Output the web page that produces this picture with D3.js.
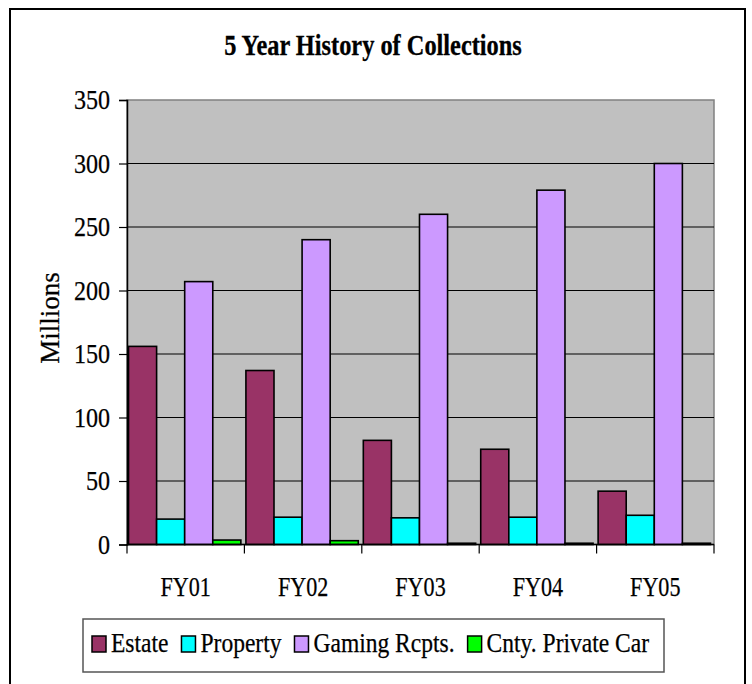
<!DOCTYPE html>
<html lang="en">
    <head>
        <meta charset="utf-8">
        <title>5 Year History of Collections</title>
        <script type="text/javascript" src="https://d3js.org/d3.v7.min.js"></script>
        <style>
            body { margin: 0; background: #fff; }
            text { font-family: "Liberation Serif", "Times New Roman", serif; fill: #000; }
        </style>
    </head>
    <body>
        <script type="text/javascript">

        // data (millions)
        var categories = ["FY01", "FY02", "FY03", "FY04", "FY05"];
        var seriesNames = ["Estate", "Property", "Gaming Rcpts.", "Cnty. Private Car"];
        var estate = [156, 137, 82, 75, 42];
        var property = [20, 21.5, 21, 21.5, 23];
        var gaming = [207, 240, 260, 279, 300];
        var privateCar = [3.5, 3, 1, 1, 1];
        var yTicks = [0, 50, 100, 150, 200, 250, 300, 350];
        var colors = ["#993366", "#00FFFF", "#CC99FF", "#00FF00"];

        var w = 752;
        var h = 684;
        var plot = {left: 127, top: 100, right: 714, bottom: 544.5};

        var svg = d3.select("body")
                    .append("svg")
                    .attr("width", w)
                    .attr("height", h);

        // outer chart border
        svg.append("rect")
           .attr("x", 10).attr("y", 9)
           .attr("width", 735).attr("height", 700)
           .attr("fill", "#fff")
           .attr("stroke", "#000")
           .attr("stroke-width", 2);

        // places a text horizontally squeezed like the original
        function label(x, y, str, anchor, opts) {
          opts = opts || {};
          var t = svg.append("text")
                     .attr("y", y)
                     .attr("font-size", opts.size || 28)
                     .attr("font-weight", opts.bold ? "bold" : "normal")
                     .attr("stroke", "#000")
                     .attr("stroke-width", opts.bold ? 0.3 : 0.25)
                     .text(str);
          var len = t.node().getComputedTextLength() * (opts.k || 0.83);
          t.attr("textLength", len).attr("lengthAdjust", "spacingAndGlyphs");
          var x0 = anchor === "end" ? x - len : anchor === "middle" ? x - len / 2 : x;
          t.attr("x", x0);
          return len;
        }

        var table = categories.map(function(c, i) {
          return {cat: c, values: [estate[i], property[i], gaming[i], privateCar[i]]};
        });

        var x0 = d3.scaleBand()
                   .domain(categories)
                   .range([plot.left, plot.right]);
        var x1 = d3.scaleBand()
                   .domain(seriesNames)
                   .range([0, x0.bandwidth()])
                   .paddingOuter(0.09)
                   .align(0.3);
        var y = d3.scaleLinear()
                  .domain([0, 350])
                  .range([plot.bottom, plot.top]);

        // plot area
        svg.append("rect")
           .attr("x", plot.left).attr("y", plot.top)
           .attr("width", plot.right - plot.left)
           .attr("height", plot.bottom - plot.top)
           .attr("fill", "#C0C0C0")
           .attr("stroke", "#808080")
           .attr("stroke-width", 1.5);

        // gridlines
        svg.selectAll("line.grid")
           .data(yTicks.filter(function(d) { return d > 0 && d < 350; }))
           .enter()
           .append("line")
           .attr("class", "grid")
           .attr("x1", plot.left).attr("x2", plot.right)
           .attr("y1", function(d) { return y(d); })
           .attr("y2", function(d) { return y(d); })
           .attr("stroke", "#000")
           .attr("stroke-width", 1);

        // bars
        var groups = svg.selectAll("g.cat")
                        .data(table)
                        .enter()
                        .append("g")
                        .attr("class", "cat")
                        .attr("transform", function(d) { return "translate(" + x0(d.cat) + ",0)"; });

        groups.selectAll("rect")
              .data(function(d) {
                return d.values.map(function(v, j) { return {name: seriesNames[j], value: v, j: j}; });
              })
              .enter()
              .append("rect")
              .attr("x", function(d) { return x1(d.name); })
              .attr("width", x1.bandwidth())
              .attr("y", function(d) { return y(d.value); })
              .attr("height", function(d) { return y(0) - y(d.value); })
              .attr("fill", function(d) { return colors[d.j]; })
              .attr("stroke", "#000")
              .attr("stroke-width", 1.6);

        // y axis
        var yAxis = svg.append("g")
                       .attr("transform", "translate(" + plot.left + ",0)")
                       .call(d3.axisLeft(y).tickValues(yTicks).tickSize(8).tickFormat(""));
        yAxis.select(".domain").attr("stroke", "#000").attr("stroke-width", 1.5);
        yAxis.selectAll(".tick line").attr("stroke", "#000").attr("stroke-width", 1.2);
        yTicks.forEach(function(t) {
          label(110, y(t) + 9, String(t), "end", {k: 0.86});
        });

        // x axis
        svg.append("line")
           .attr("x1", plot.left).attr("x2", plot.right)
           .attr("y1", plot.bottom).attr("y2", plot.bottom)
           .attr("stroke", "#000").attr("stroke-width", 1.5);
        var bounds = categories.map(function(c) { return x0(c); }).concat([plot.right]);
        svg.selectAll("line.xtick")
           .data(bounds)
           .enter()
           .append("line")
           .attr("class", "xtick")
           .attr("x1", function(d) { return d; }).attr("x2", function(d) { return d; })
           .attr("y1", plot.bottom).attr("y2", plot.bottom + 9)
           .attr("stroke", "#000").attr("stroke-width", 1.2);
        categories.forEach(function(c) {
          label(x0(c) + x0.bandwidth() / 2, 596, c, "middle", {k: 0.79});
        });

        // title
        label(373, 55, "5 Year History of Collections", "middle", {size: 29, bold: true, k: 0.84});

        // y axis title
        svg.append("text")
           .attr("font-size", 27)
           .attr("text-anchor", "middle")
           .attr("stroke", "#000")
           .attr("stroke-width", 0.25)
           .attr("transform", "translate(59,318) rotate(-90)")
           .text("Millions");

        // legend
        svg.append("rect")
           .attr("x", 83).attr("y", 619)
           .attr("width", 581).attr("height", 53)
           .attr("fill", "#fff")
           .attr("stroke", "#555")
           .attr("stroke-width", 1.5);
        var cx = 92;
        seriesNames.forEach(function(s, i) {
          svg.append("rect")
             .attr("x", cx).attr("y", 636)
             .attr("width", 14).attr("height", 16)
             .attr("fill", colors[i])
             .attr("stroke", "#000")
             .attr("stroke-width", 1.5);
          var len = label(cx + 19, 652, s, "start", {k: 0.84});
          cx += 19 + len + 13;
        });

        </script>
    </body>
</html>
